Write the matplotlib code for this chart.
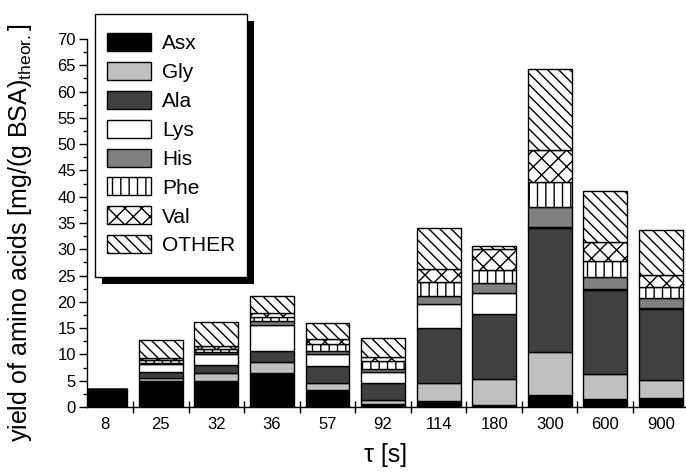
import matplotlib
matplotlib.use("Agg")
import matplotlib.pyplot as plt
from matplotlib.patches import Patch, Rectangle
from matplotlib.ticker import MultipleLocator, FixedLocator, NullFormatter
import numpy as np

plt.rcParams['font.family'] = ['Liberation Sans', 'DejaVu Sans']
plt.rcParams['mathtext.fontset'] = 'custom'
plt.rcParams['mathtext.rm'] = 'Liberation Sans'
plt.rcParams['hatch.linewidth'] = 1.0

categories = ['8', '25', '32', '36', '57', '92', '114', '180', '300', '600', '900']
Asx   = [3.0, 5.0, 5.0, 6.4, 3.3, 0.5, 1.2, 0.4, 2.3, 1.45, 1.65]
Gly   = [0.1, 0.6, 1.4, 2.2, 1.2, 0.9, 3.3, 5.0, 8.2, 4.85, 3.45]
Ala   = [0.3, 1.0, 1.6, 2.1, 3.3, 3.2, 10.6, 12.2, 23.5, 16.0, 13.5]
Lys   = [0.0, 1.5, 2.0, 4.9, 2.3, 2.1, 4.5, 4.0, 0.2, 0.2, 0.2]
His   = [0.0, 0.3, 0.5, 0.7, 0.6, 0.5, 1.6, 2.0, 3.8, 2.2, 1.9]
Phe   = [0.0, 0.5, 0.6, 0.8, 1.2, 1.5, 2.6, 2.5, 4.8, 3.1, 2.2]
Val   = [0.0, 0.5, 0.5, 0.8, 1.0, 0.9, 2.4, 3.9, 6.1, 3.5, 2.2]
OTHER = [0.0, 3.3, 4.5, 3.3, 3.0, 3.5, 7.9, 0.7, 15.3, 9.8, 8.6]

series_names = ['Asx', 'Gly', 'Ala', 'Lys', 'His', 'Phe', 'Val', 'OTHER']
series_vals = [Asx, Gly, Ala, Lys, His, Phe, Val, OTHER]
styles = [
    dict(facecolor='black', hatch=None),
    dict(facecolor='#c0c0c0', hatch=None),
    dict(facecolor='#404040', hatch=None),
    dict(facecolor='white', hatch=None),
    dict(facecolor='#808080', hatch=None),
    dict(facecolor='white', hatch='||'),
    dict(facecolor='white', hatch='xx'),
    dict(facecolor='white', hatch='\\\\\\'),
]

fig = plt.figure(figsize=(6.86, 4.73), dpi=100)
W, H = 686, 473
ax_left, ax_bottom, ax_right, ax_top = 87, 407, 688.6, 39
ax = fig.add_axes([ax_left / W, 1 - ax_bottom / H, (ax_right - ax_left) / W, (ax_bottom - ax_top) / H])

x = np.arange(len(categories))
bottom = np.zeros(len(categories))
for name, vals, st in zip(series_names, series_vals, styles):
    v = np.array(vals)
    ax.bar(x, v, width=0.79, bottom=bottom, color=st['facecolor'], edgecolor='black',
           linewidth=1.0, hatch=st['hatch'], zorder=2)
    bottom += v

ax.set_xlim(-0.328, 10.5)
ax.set_ylim(0, 70)

ax.spines['top'].set_visible(False)
ax.spines['right'].set_visible(False)
ax.spines['left'].set_linewidth(1.0)
ax.spines['bottom'].set_linewidth(1.0)

# x ticks: marks at boundaries, labels at centres
ax.xaxis.set_major_locator(FixedLocator(x[:-1] + 0.5))
ax.xaxis.set_major_formatter(NullFormatter())
ax.xaxis.set_minor_locator(FixedLocator(x))
ax.set_xticklabels(categories, minor=True)
ax.tick_params(axis='x', which='major', direction='inout', length=8, width=1)
ax.tick_params(axis='x', which='minor', length=0, pad=7, labelsize=12)

ax.yaxis.set_major_locator(MultipleLocator(5))
ax.yaxis.set_minor_locator(MultipleLocator(2.5))
ax.tick_params(axis='y', which='major', direction='out', length=6, width=1, labelsize=12, pad=2)
ax.tick_params(axis='y', which='minor', direction='out', length=3, width=1)

fig.text(20 / W, 1 - 233 / H, 'yield of amino acids [mg/(g BSA)$_{\\mathrm{theor.}}$]',
         fontsize=18, rotation=90, ha='center', va='center')
fig.text(386 / W, 1 - 455 / H, 'τ [s]', fontsize=18, ha='center', va='center')

# legend frame + shadow drawn manually
lx0, ly0, lx1, ly1 = 95, 14, 247, 277
off = 7
fig.add_artist(Rectangle(((lx0 + off) / W, 1 - (ly1 + off) / H), (lx1 - lx0) / W, (ly1 - ly0) / H,
                         transform=fig.transFigure, facecolor='black', edgecolor='none', zorder=4))
fig.add_artist(Rectangle((lx0 / W, 1 - ly1 / H), (lx1 - lx0) / W, (ly1 - ly0) / H,
                         transform=fig.transFigure, facecolor='white', edgecolor='black',
                         linewidth=1.0, zorder=4.5))

handles = [Patch(facecolor=st['facecolor'], edgecolor='black', hatch=st['hatch'], linewidth=1.0)
           for st in styles]
leg = fig.legend(handles, series_names, loc='upper left',
                 bbox_to_anchor=(107 / W, 1 - 33 / H), borderaxespad=0, borderpad=0,
                 fontsize=15, frameon=False,
                 handlelength=2.1, handleheight=0.95,
                 labelspacing=0.42, handletextpad=0.53)
leg.set_zorder(6)

fig.savefig('out.png', dpi=100)
